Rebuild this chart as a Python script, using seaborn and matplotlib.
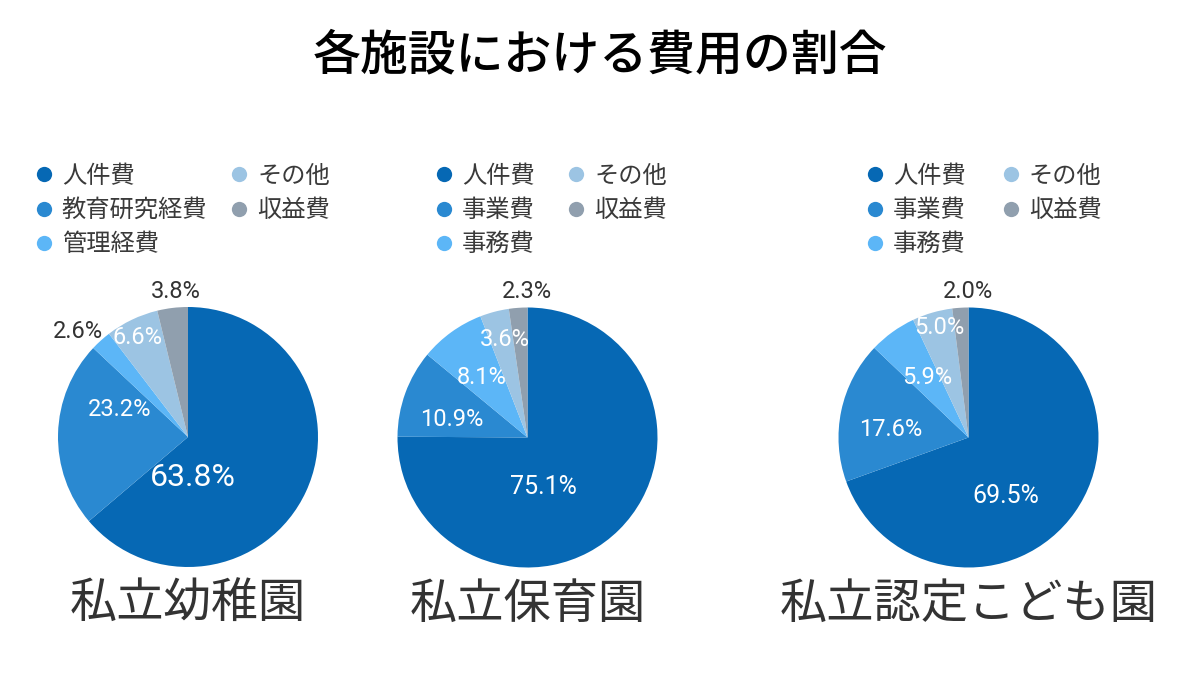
import matplotlib
matplotlib.use("Agg")
import matplotlib.pyplot as plt
from matplotlib.lines import Line2D
import seaborn as sns

sns.set_theme(style="white")
plt.rcParams['font.family'] = ['Roboto', 'Noto Sans CJK JP', 'DejaVu Sans']

# ---------------- data ----------------
title = "各施設における費用の割合"
facilities = ["私立幼稚園", "私立保育園", "私立認定こども園"]
cats_kinder = ["人件費", "教育研究経費", "管理経費", "その他", "収益費"]
cats_nursery = ["人件費", "事業費", "事務費", "その他", "収益費"]
cats_kodomo = ["人件費", "事業費", "事務費", "その他", "収益費"]
vals_kinder = [63.8, 23.2, 2.6, 6.6, 3.8]
vals_nursery = [75.1, 10.9, 8.1, 3.6, 2.3]
vals_kodomo = [69.5, 17.6, 5.9, 5.0, 2.0]

# ---------------- style / layout ----------------
colors = sns.color_palette(["#0668b4", "#2a89d1", "#5cb6f7", "#9cc4e3", "#909fae"])
W, H = 1200, 675
R = 130  # pie radius in px
centers = [(188, 437), (527.5, 437.5), (968.5, 437.5)]
# label offsets from pie centre in px (dx right, dy down), per slice
label_offsets = [
    [(5, 41), (-68, -27), (-110, -106), (-50, -99), (-12, -145)],
    [(15.5, 49.5), (-75.5, -18.5), (-45.5, -60.5), (-22.5, -97.5), (-0.5, -145.5)],
    [(37.5, 58.5), (-77.5, -7.5), (-41.5, -59.5), (-29.5, -109.5), (-0.5, -145.5)],
]
label_colors = [
    ["white", "white", "#333333", "white", "#333333"],
    ["white", "white", "white", "white", "#333333"],
    ["white", "white", "white", "white", "#333333"],
]
label_sizes = [
    [23, 17, 17, 17, 17],
    [18, 17, 17, 17, 17],
    [18, 17, 17, 17, 17],
]
legend_anchor = [(34, 163), (434, 163), (865, 163)]
legend_colspacing = [0.9, 1.3, 1.45]

fig = plt.figure(figsize=(W / 100, H / 100), dpi=100)
fig.patch.set_facecolor("white")

fig.text(0.5, 1 - 56 / H, title, ha="center", va="center", fontsize=34.5,
         fontweight="medium", color="#000000", family=['Noto Sans CJK JP'])

all_cats = [cats_kinder, cats_nursery, cats_kodomo]
all_vals = [vals_kinder, vals_nursery, vals_kodomo]

for i, (cats, vals) in enumerate(zip(all_cats, all_vals)):
    cx, cy = centers[i]
    ax = fig.add_axes([(cx - R) / W, (H - cy - R) / H, 2 * R / W, 2 * R / H])
    ax.pie(vals, colors=colors, startangle=90, counterclock=False,
           radius=1, wedgeprops=dict(linewidth=0))
    ax.set_xlim(-1, 1)
    ax.set_ylim(-1, 1)
    ax.set_aspect("equal")
    ax.axis("off")
    for j, v in enumerate(vals):
        dx, dy = label_offsets[i][j]
        ax.text(dx / R, -dy / R, f"{v:.1f}%", ha="center", va="center",
                fontsize=label_sizes[i][j], color=label_colors[i][j],
                family=['Roboto'], clip_on=False)
    # facility name below
    fig.text(cx / W, 1 - 605 / H, facilities[i], ha="center", va="center",
             fontsize=34, color="#333333", family=['Noto Sans CJK JP'])
    # legend
    handles = [Line2D([], [], marker="o", linestyle="none", markersize=11,
                      markerfacecolor=colors[k], markeredgewidth=0)
               for k in range(len(cats))]
    lx, ly = legend_anchor[i]
    fig.legend(handles, cats, loc="upper left",
               bbox_to_anchor=(lx / W, 1 - ly / H), ncol=2, frameon=False,
               labelcolor="#3a3a3a", handlelength=0.8,
               handletextpad=0.35, columnspacing=legend_colspacing[i],
               labelspacing=0.33, borderpad=0, borderaxespad=0,
               prop=dict(family=['Noto Sans CJK JP'], size=17.5))

fig.savefig("out.png", dpi=100, facecolor="white")
